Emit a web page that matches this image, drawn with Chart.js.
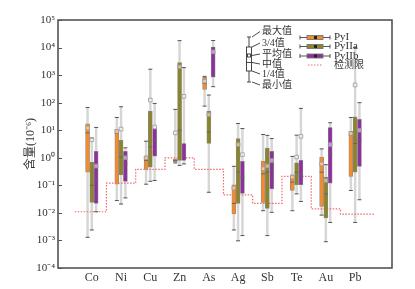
<!DOCTYPE html>
<html>
<head>
<meta charset="utf-8">
<script src="https://cdn.jsdelivr.net/npm/chart.js@4.4.0/dist/chart.umd.min.js"></script>
<style>
html, body { margin: 0; padding: 0; background: #fff; }
#wrap { width: 415px; height: 289px; }
</style>
</head>
<body>
<div id="wrap"><canvas id="chart"></canvas></div>
<script>
const elements = ['Co', 'Ni', 'Cu', 'Zn', 'As', 'Ag', 'Sb', 'Te', 'Au', 'Pb']
const decades = [-4, -3, -2, -1, 0, 1, 2, 3, 4, 5]
const detectLimit = [0.011, 0.12, 0.38, 1.0, 0.38, 0.045, 0.022, 0.21, 0.014, 0.009]

// PyI
const pyIMin  = [0.0013, 0.028, 0.11, 0.65, 75, 0.0024, 0.012, 0.012, 0.0083, 0.065]
const pyIQ1   = [0.30, 0.11, 0.38, 0.72, 305, 0.0091, 0.024, 0.065, 0.017, 0.21]
const pyIMed  = [8, 7.6, 0.8, 0.8, 500, 0.022, 0.26, 0.13, 0.3, 6.6]
const pyIQ3   = [17, 10.6, 1.12, 0.9, 830, 0.105, 0.74, 0.24, 1.07, 9.1]
const pyIMax  = [67, 29, 4, 57, 900, 0.49, 7, 1.12, 2.1, 29]
const pyIMean = [12, 9, 1.0, 8, 600, 0.08, 0.4, 0.2, 0.6, 7.5]

// PyIIa
const pyIIaMin  = [0.0024, 0.021, 0.14, 0.53, 0.056, 0.00097, 0.0015, 0.049, 0.0009, 0.0045]
const pyIIaQ1   = [0.024, 0.24, 0.46, 0.8, 3.3, 0.022, 0.0145, 0.105, 0.0065, 0.3]
const pyIIaMed  = [0.1, 1.07, 2.5, 10, 8.7, 0.3, 0.3, 0.3, 0.049, 3.3]
const pyIIaQ3   = [0.69, 4.3, 49, 2860, 49, 5, 2.26, 0.66, 0.2, 30.5]
const pyIIaMax  = [5.2, 71, 1640, 17800, 189, 17.6, 6.5, 6.6, 0.56, 10000]
const pyIIaMean = [4.5, 11, 124, 2000, 37, 3, 0.5, 1.07, 0.15, 440]

// PyIIb
const pyIIbMin  = [0.011, 0.035, 0.15, 0.6, 380, 0.0015, 0.0105, 0.026, 0.0045, 0.03]
const pyIIbQ1   = [0.022, 0.14, 1.15, 0.8, 840, 0.051, 0.074, 0.105, 0.12, 0.49]
const pyIIbMed  = [0.15, 0.6, 4.3, 1.2, 6300, 0.2, 0.6, 0.26, 1.4, 4.3]
const pyIIbQ3   = [1.7, 1.7, 11.5, 3.3, 10500, 0.74, 1.7, 0.8, 12.6, 25]
const pyIIbMax  = [12.6, 2.3, 94, 1870, 18000, 11.5, 5, 62, 18.7, 100]
const pyIIbMean = [0.5, 1, 13, 170, 7000, 1.3, 0.8, 6, 3, 10]

const serif = "'Liberation Serif', 'Times New Roman', 'Noto Sans CJK SC', serif"
const cjk = "'Liberation Serif', 'Noto Sans CJK SC', sans-serif"

const series = [
    { name: 'PyI', color: '#f28a30', min: pyIMin, q1: pyIQ1, med: pyIMed, q3: pyIQ3, max: pyIMax, mean: pyIMean, off: -0.145 },
    { name: 'PyIIa', color: '#8c8429', min: pyIIaMin, q1: pyIIaQ1, med: pyIIaMed, q3: pyIIaQ3, max: pyIIaMax, mean: pyIIaMean, off: 0 },
    { name: 'PyIIb', color: '#8e2f9f', min: pyIIbMin, q1: pyIIbQ1, med: pyIIbMed, q3: pyIIbQ3, max: pyIIbMax, mean: pyIIbMean, off: 0.148 }
]

const xMin = -0.585
const xMax = 9.69

var datasets = []
series.forEach((s) => {
    const xs = elements.map((e, k) => k + s.off)
    datasets.push({
        type: 'bar', label: s.name + ' whisker', grouped: false, order: 10,
        data: xs.map((x, k) => ({ x: x, y: [s.min[k], s.max[k]] })),
        backgroundColor: '#d6d6d6', borderWidth: 0, barThickness: 1.8
    })
    datasets.push({
        type: 'bar', label: s.name, grouped: false, order: 5,
        data: xs.map((x, k) => ({ x: x, y: [s.q1[k], s.q3[k]] })),
        backgroundColor: s.color, borderColor: '#8a8a8a', borderWidth: 0.7,
        borderSkipped: false, barThickness: 4
    })
    const caps = []
    xs.forEach((x, k) => {
        caps.push({ x: x, y: s.min[k] })
        caps.push({ x: x, y: s.max[k] })
    })
    datasets.push({
        type: 'scatter', label: s.name + ' caps', order: 3, data: caps,
        pointStyle: 'line', pointRadius: 2, borderColor: '#555', borderWidth: 1
    })
    datasets.push({
        type: 'scatter', label: s.name + ' median', order: 2,
        data: xs.map((x, k) => ({ x: x, y: s.med[k] })),
        pointStyle: 'line', pointRadius: 2, borderColor: '#666', borderWidth: 1
    })
    datasets.push({
        type: 'scatter', label: s.name + ' mean', order: 1,
        data: xs.map((x, k) => ({ x: x, y: s.mean[k] })),
        pointStyle: 'rect', pointRadius: 2.6, borderColor: '#999',
        backgroundColor: 'rgba(255,255,255,0.5)', borderWidth: 0.8
    })
})

// detection limit, stepped between elements
const limitPts = [{ x: xMin, y: detectLimit[0] }]
detectLimit.forEach((v, k) => limitPts.push({ x: k, y: v }))
limitPts.push({ x: xMax, y: detectLimit[detectLimit.length - 1] })
datasets.push({
    type: 'line', label: '检测限', order: 8, data: limitPts, stepped: 'middle',
    borderColor: '#f26a6a', borderDash: [1.5, 1.5], borderWidth: 1.2, pointRadius: 0, fill: false
})

const sup = { '-': '⁻', '0': '⁰', '1': '¹', '2': '²', '3': '³', '4': '⁴', '5': '⁵', '6': '⁶', '7': '⁷', '8': '⁸', '9': '⁹' }
function powLabel(v) {
    const e = String(Math.round(Math.log10(v)))
    return '10' + e.split('').map(c => sup[c]).join('')
}

var frameAndLegend = {
    id: 'frameAndLegend',
    afterDraw(chart) {
        const { ctx, chartArea: { top, bottom, left, right }, scales: { y } } = chart
        ctx.save()
        // frame
        ctx.strokeStyle = '#3c3c3c'
        ctx.lineWidth = 1.4
        ctx.strokeRect(left, top, right - left, bottom - top)
        // inward ticks
        ctx.lineWidth = 1
        ctx.strokeStyle = '#555'
        decades.forEach(d => {
            const py = Math.round(y.getPixelForValue(Math.pow(10, d))) + 0.5
            ctx.beginPath()
            ctx.moveTo(left, py)
            ctx.lineTo(left + 4, py)
            ctx.stroke()
        })

        // box key
        const kx = 249
        ctx.strokeStyle = '#333'
        ctx.lineWidth = 0.9
        ctx.beginPath()
        ctx.moveTo(kx, 37); ctx.lineTo(kx, 82)
        ctx.moveTo(kx - 2, 37); ctx.lineTo(kx + 2, 37)
        ctx.moveTo(kx - 2, 82); ctx.lineTo(kx + 2, 82)
        ctx.stroke()
        ctx.fillStyle = '#fff'
        ctx.fillRect(kx - 2.5, 47, 5, 24)
        ctx.strokeRect(kx - 2.5, 47, 5, 24)
        ctx.strokeRect(kx - 1.5, 54, 3, 3)
        ctx.beginPath()
        ctx.moveTo(kx - 2.5, 62.5); ctx.lineTo(kx + 2.5, 62.5)
        ctx.stroke()
        const keyItems = [
            ['最大值', 37, 31.5], ['3/4值', 47, 43], ['平均值', 55.5, 54],
            ['中值', 62.5, 64], ['1/4值', 71, 74], ['最小值', 82, 85]
        ]
        ctx.font = '10px ' + cjk
        ctx.textBaseline = 'middle'
        ctx.textAlign = 'left'
        keyItems.forEach(([t, ey, ly]) => {
            ctx.strokeStyle = '#333'
            ctx.beginPath()
            ctx.moveTo(kx + 3, ey); ctx.lineTo(kx + 11, ly)
            ctx.stroke()
            ctx.fillStyle = '#333'
            ctx.fillText(t, 262, ly)
        })

        // series legend
        const rows = [37.5, 46.5, 56]
        series.forEach((s, i) => {
            const ly = rows[i]
            ctx.strokeStyle = '#444'
            ctx.lineWidth = 0.9
            ctx.beginPath()
            ctx.moveTo(300, ly); ctx.lineTo(330, ly)
            ctx.moveTo(300, ly - 2); ctx.lineTo(300, ly + 2)
            ctx.moveTo(330, ly - 2); ctx.lineTo(330, ly + 2)
            ctx.stroke()
            ctx.fillStyle = s.color
            ctx.fillRect(307, ly - 2, 16, 4)
            ctx.strokeStyle = '#777'
            ctx.strokeRect(307, ly - 2, 16, 4)
            ctx.fillStyle = '#222'
            ctx.fillRect(314, ly - 1.5, 3, 3)
            ctx.font = '11px ' + serif
            ctx.fillStyle = '#333'
            ctx.fillText(s.name, 334, ly)
        })
        ctx.strokeStyle = '#f26a6a'
        ctx.lineWidth = 1.2
        ctx.setLineDash([1.5, 1.5])
        ctx.beginPath()
        ctx.moveTo(308, 65); ctx.lineTo(323, 65)
        ctx.stroke()
        ctx.setLineDash([])
        ctx.font = '10px ' + cjk
        ctx.fillStyle = '#333'
        ctx.fillText('检测限', 334, 65.5)
        ctx.restore()
    }
}

const ctx = document.getElementById('chart').getContext('2d')
const MyChart = new Chart(ctx, {
    type: 'bar',
    data: { datasets: datasets },
    options: {
        responsive: true,
        maintainAspectRatio: false,
        animation: false,
        layout: { padding: { left: 24, right: 23, top: 20, bottom: 0 } },
        plugins: { legend: { display: false }, tooltip: { enabled: false } },
        scales: {
            x: {
                type: 'linear', min: xMin, max: xMax,
                grid: { display: false, drawTicks: false },
                border: { display: false },
                afterBuildTicks(scale) { scale.ticks = elements.map((e, k) => ({ value: k })) },
                afterFit(scale) { scale.height = 21 },
                ticks: {
                    autoSkip: false, maxRotation: 0, padding: 3, color: '#333',
                    font: { family: serif, size: 12 },
                    callback: (v) => elements[Math.round(v)]
                }
            },
            y: {
                type: 'logarithmic', min: 1e-4, max: 1e5,
                grid: { display: false, drawTicks: false },
                border: { display: false },
                afterBuildTicks(scale) { scale.ticks = decades.map(d => ({ value: Math.pow(10, d) })) },
                afterFit(scale) { scale.width = 34 },
                ticks: {
                    padding: 3, color: '#333',
                    font: { family: serif, size: 11 },
                    callback: (v) => powLabel(v)
                },
                title: {
                    display: true, text: '含量(10⁻⁶)', color: '#333', padding: 0,
                    font: { family: cjk, size: 12 }
                }
            }
        }
    },
    plugins: [frameAndLegend]
})
</script>
</body>
</html>
